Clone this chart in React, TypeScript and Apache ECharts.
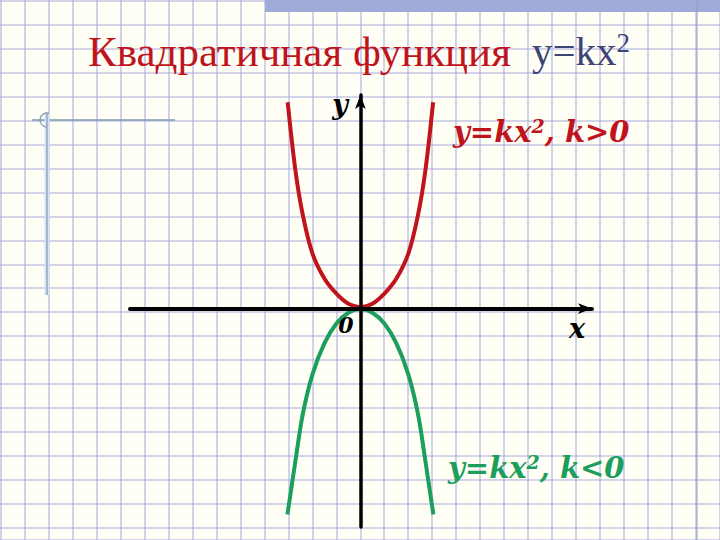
import React, { useEffect, useRef } from "react";
import * as echarts from "echarts";

// (units = one grid cell, origin at the axes' crossing)
const redX = [-3.03, -2.7, -2.4, -2, -1.5, -1, -0.5, 0, 0.5, 1, 1.5, 2, 2.4, 2.7, 3.03];
const redY = [8.6, 5.7, 3.9, 2.3, 1.25, 0.62, 0.2, 0.06, 0.2, 0.62, 1.25, 2.3, 3.9, 5.7, 8.6];
const greenX = [-3.04, -2.7, -2.4, -2, -1.5, -1, -0.5, 0, 0.5, 1, 1.5, 2, 2.4, 2.7, 3.04];
const greenY = [-8.58, -6.3, -4.4, -2.75, -1.45, -0.62, -0.17, -0.02, -0.17, -0.62, -1.45, -2.75, -4.4, -6.3, -8.58];

const titleText = "Квадратичная функция";
const titleFormula = ["y=kx", "2"];
const redLabel = ["y=kx", "2", ", k>0"];
const greenLabel = ["y=kx", "2", ", k<0"];
const axisNames = { x: "x", y: "y", origin: "0" };

const RED = "#c0141c";
const GREEN = "#1c9e5c";
const LABEL_FONT = "DejaVu Serif";

export default function App() {
  const ref = useRef<HTMLDivElement>(null);
  useEffect(() => {
    document.body.style.margin = "0";
    const chart = echarts.init(ref.current!, null, { renderer: "svg" });
    const redData = redX.map((x, i) => [x, redY[i]]);
    const greenData = greenX.map((x, i) => [x, greenY[i]]);
    const paperSplit = {
      show: true,
      lineStyle: { color: "#a6a6de", width: 2, type: [1, 1] as any },
    };
    const labelRich = (color: string) => ({
      m: { fontSize: 29, fontWeight: "bold", fontStyle: "italic", fontFamily: LABEL_FONT, fill: color, color, lineHeight: 32 },
      s: { fontSize: 19, fontWeight: "bold", fontStyle: "italic", fontFamily: LABEL_FONT, fill: color, color, verticalAlign: "top", lineHeight: 32 },
    });
    chart.setOption({
      animation: false,
      backgroundColor: "#fffff6",
      grid: [
        { left: 0.5, top: 0.5, width: 720, height: 540 },
        { left: 130, right: 128, top: 95, bottom: 13 },
      ],
      xAxis: [
        {
          gridIndex: 0, type: "value", min: 0, max: 720, interval: 24,
          axisLine: { show: false }, axisTick: { show: false }, axisLabel: { show: false },
          splitLine: paperSplit,
        },
        {
          gridIndex: 1, type: "value", min: -9.6, max: 9.65, z: 5,
          axisLine: { onZero: true, symbol: ["none", "arrow"], symbolSize: [8, 14], lineStyle: { color: "#000", width: 4 } },
          axisTick: { show: false }, axisLabel: { show: false }, splitLine: { show: false },
        },
      ],
      yAxis: [
        {
          gridIndex: 0, type: "value", inverse: true, min: 0, max: 540, interval: 24,
          axisLine: { show: false }, axisTick: { show: false }, axisLabel: { show: false },
          splitLine: paperSplit,
        },
        {
          gridIndex: 1, type: "value", min: -9.1, max: 8.9, z: 5,
          axisLine: { onZero: true, symbol: ["none", "arrow"], symbolSize: [8, 14], lineStyle: { color: "#000", width: 3.5 } },
          axisTick: { show: false }, axisLabel: { show: false }, splitLine: { show: false },
        },
      ],
      series: [
        {
          type: "line", xAxisIndex: 1, yAxisIndex: 1, data: redData, smooth: 0.35,
          showSymbol: false, lineStyle: { color: RED, width: 4 }, z: 2,
        },
        {
          type: "line", xAxisIndex: 1, yAxisIndex: 1, data: greenData, smooth: 0.35,
          showSymbol: false, lineStyle: { color: GREEN, width: 4 }, z: 2,
        },
      ],
      graphic: [
        // slide decorations
        { type: "rect", shape: { x: 265, y: 0, width: 455, height: 12 }, style: { fill: "#9eabd9" }, z: 1 },
        { type: "line", shape: { x1: 697, y1: 0, x2: 697, y2: 540 }, style: { stroke: "#8f9cc4", lineWidth: 1 }, z: 1 },
        { type: "line", shape: { x1: 32, y1: 120, x2: 175, y2: 120 }, style: { stroke: "#7f98b2", lineWidth: 1.5 }, z: 1 },
        { type: "line", shape: { x1: 47, y1: 113, x2: 47, y2: 295 }, style: { stroke: "#d6e4f2", lineWidth: 5 }, z: 1 },
        { type: "line", shape: { x1: 47, y1: 113, x2: 47, y2: 295 }, style: { stroke: "#93a9c6", lineWidth: 1.5 }, z: 1 },
        { type: "arc", shape: { cx: 47, cy: 120, r: 7, startAngle: Math.PI * 0.5, endAngle: Math.PI * 1.6 }, style: { stroke: "#7f98b2", lineWidth: 1.2, fill: "none" }, z: 1 },
        // title
        {
          type: "text", x: 88, y: 51, z: 10,
          style: { text: titleText, fill: "#c0141c", fontSize: 43, fontFamily: "Liberation Serif", verticalAlign: "middle" },
        },
        {
          type: "text", x: 532, y: 51, z: 10,
          style: {
            text: `{m|${titleFormula[0]}}{s|${titleFormula[1]}}`, verticalAlign: "middle",
            rich: {
              m: { fontSize: 41, fontFamily: "Liberation Serif", fill: "#3c4478", color: "#3c4478", lineHeight: 44 },
              s: { fontSize: 27, fontFamily: "Liberation Serif", fill: "#3c4478", color: "#3c4478", verticalAlign: "top", lineHeight: 44 },
            },
          },
        },
        // axis names
        {
          type: "text", x: 340, y: 104, z: 10,
          style: { text: axisNames.y, fill: "#000", fontSize: 27, fontWeight: "bold", fontStyle: "italic", fontFamily: LABEL_FONT, align: "center", verticalAlign: "middle" },
        },
        {
          type: "text", x: 577, y: 328, z: 10,
          style: { text: axisNames.x, fill: "#000", fontSize: 27, fontWeight: "bold", fontStyle: "italic", fontFamily: LABEL_FONT, align: "center", verticalAlign: "middle" },
        },
        {
          type: "text", x: 346, y: 325, z: 10,
          style: { text: axisNames.origin, fill: "#000", fontSize: 22, fontWeight: "bold", fontStyle: "italic", fontFamily: LABEL_FONT, align: "center", verticalAlign: "middle" },
        },
        // curve labels
        {
          type: "text", x: 453, y: 132, z: 10,
          style: { text: `{m|${redLabel[0]}}{s|${redLabel[1]}}{m|${redLabel[2]}}`, verticalAlign: "middle", rich: labelRich(RED) },
        },
        {
          type: "text", x: 448, y: 468, z: 10,
          style: { text: `{m|${greenLabel[0]}}{s|${greenLabel[1]}}{m|${greenLabel[2]}}`, verticalAlign: "middle", rich: labelRich(GREEN) },
        },
      ],
    });
    return () => chart.dispose();
  }, []);
  return <div ref={ref} style={{ width: 720, height: 540, position: "absolute", left: 0, top: 0 }} />;
}
